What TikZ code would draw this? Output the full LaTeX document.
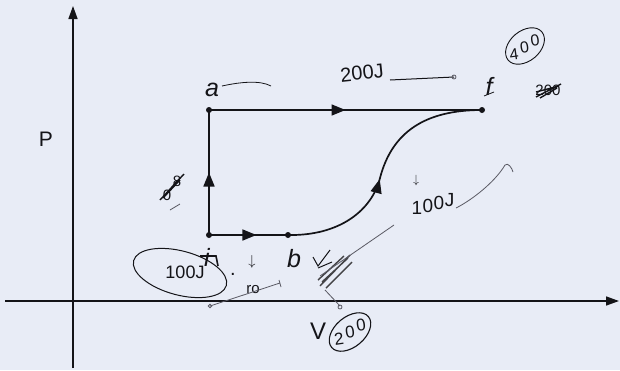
\documentclass[tikz,border=0pt]{standalone}
\usepackage{fontspec}
\setmainfont{Liberation Sans}
\usetikzlibrary{arrows.meta,decorations.markings}
\definecolor{paper}{RGB}{232,236,246}
\definecolor{ink}{RGB}{20,20,24}
\definecolor{pencil}{RGB}{90,90,100}
\tikzset{
  axis/.style={draw=ink,line width=1.6pt,-{Triangle[length=13pt,width=9pt]}},
  proc/.style={draw=ink,line width=1.7pt},
  midtri/.style={postaction={decorate},decoration={markings,mark=at position #1 with {\arrow{Triangle[length=14pt,width=11pt]}}}},
  state/.style={circle,fill=ink,inner sep=0pt,minimum size=6pt},
  hand/.style={text=ink,font=\fontsize{20}{20}\selectfont,inner sep=0pt},
  digit/.style={text=ink,font=\fontsize{16}{16}\selectfont,inner sep=0pt,rotate=8},
  glyph/.style={text=ink,font=\fontsize{19}{19}\selectfont,inner sep=0pt},
  lbl/.style={text=ink,font=\itshape\fontsize{25}{25}\selectfont,inner sep=0pt},
  thin/.style={draw=pencil,line width=0.8pt},
  scrib/.style={draw=ink,line width=1.4pt},
}
\begin{document}
\begin{tikzpicture}[x=1pt,y=-1pt]
\fill[paper] (0,0) rectangle (620,370);
\useasboundingbox (0,0) rectangle (620,370);
% axes
\coordinate (o) at (73,301);
\coordinate (ytop) at (73,6);
\coordinate (ybot) at (73,368);
\coordinate (xleft) at (5,301);
\coordinate (xright) at (619,301);
\draw[axis] (ybot) -- (ytop);
\draw[axis] (xleft) -- (xright);
\node[text=ink,font=\fontsize{21}{21}\selectfont] (P) at (46,139) {P};
\node[hand,font=\fontsize{24}{24}\selectfont] (V) at (318,331) {V};
% states
\node[state] (a) at (209,110) {};
\node[state] (f) at (482,110) {};
\node[state] (i) at (209,235) {};
\node[state] (b) at (288,235) {};
\node[lbl] (la) at (212,90) {a};
\node[lbl] (lf) at (489,86) {f};
\node[lbl] (li) at (207,257) {i};
\node[lbl] (lb) at (294,259) {b};
% processes
\draw[proc,midtri=0.5] (i.center) -- (a.center);
\draw[proc,midtri=0.5] (a.center) -- (f.center);
\draw[proc,midtri=0.6] (i.center) -- (b.center);
\draw[proc,midtri=0.99] (b.center) .. controls (340,236) and (372,210) .. (380,178);
\draw[proc] (380,178) .. controls (392,132) and (425,110) .. (f.center);
% annotations: top
\node[hand,rotate=6] (t200) at (362,73) {200J};
\coordinate (u1) at (390,80);
\coordinate (u2) at (454,77);
\draw[draw=ink,line width=1pt] (u1) -- (u2);
\draw[thin] (u2) circle (2pt);
\draw[ink,line width=0.8pt] (222,86) .. controls (240,82) and (260,80) .. (271,86);
\draw[ink,line width=0.8pt] (484,96) -- (494,92);
% circled 400
\node[digit] (c4a) at (514,54) {4};
\node[digit] (c4b) at (524.5,47) {0};
\node[digit] (c4c) at (535,40) {0};
\draw[ink,line width=0.9pt,rotate around={40:(525,46)}] (525,46) ellipse (22pt and 15pt);
\node[hand,font=\fontsize{15}{15}\selectfont] (x200) at (548,90) {200};
\draw[scrib] (536,97) -- (561,84) (536,92) -- (559,86) (540,98) -- (557,88);
% annotations: right
\node[hand,font=\fontsize{13}{13}\selectfont] (d1) at (416,180) {$\downarrow$};
\node[glyph] (q1) at (417,208) {1};
\node[glyph] (q2) at (428,205.5) {0};
\node[glyph] (q3) at (439,203) {0};
\node[glyph] (q4) at (449.5,200.5) {J};
\coordinate (w1) at (456,208);
\coordinate (w2) at (505,165);
\draw[thin] (w1) .. controls (472,200) and (495,182) .. (w2) .. controls (508,162) and (512,168) .. (513,172);
% annotations: left crossed
\node[glyph,font=\fontsize{15}{15}\selectfont] (x8) at (177,181) {8};
\node[glyph,font=\fontsize{15}{15}\selectfont] (x0) at (167,195) {0};
\draw[scrib] (160,200) -- (184,174) (163,198) -- (180,180) (165,195) -- (178,180);
\draw[thin] (170,210) -- (180,204);
% annotations: bottom
\node[hand,font=\fontsize{18}{18}\selectfont] (w100) at (185,272) {100J};
\draw[ink,line width=1pt,rotate around={-15:(180,273)}] (180,273) ellipse (48pt and 22pt);
\draw[ink,line width=1.6pt] (200,256) -- (216,256) -- (218,266);
\node[hand] (dot) at (233,274) {.};
\node[hand,font=\fontsize{15}{15}\selectfont] (d2) at (252,262) {$\downarrow$};
\node[hand,font=\fontsize{15}{15}\selectfont] (ro) at (253,290) {ro};
\draw[thin] (210,306) -- (280,283);
\draw[thin] (210,306) circle (1.8pt);
\draw[thin] (279,280) -- (281,287);
\draw[ink,line width=1pt] (313,257) -- (318,266) -- (330,250);
\draw[ink,line width=1pt] (318,268) -- (332,262);
\draw[scrib,draw=ink!80] (320,286) -- (350,255) (322,282) -- (348,258) (326,288) -- (352,262) (318,280) -- (344,256);
\draw[thin] (320,276) -- (394,225);
\draw[thin] (325,290) -- (340,306);
\draw[thin] (340,307) circle (2pt);
% circled 200
\node[digit,font=\fontsize{17}{17}\selectfont] (c2a) at (339,339) {2};
\node[digit,font=\fontsize{17}{17}\selectfont] (c2b) at (350,332) {0};
\node[digit,font=\fontsize{17}{17}\selectfont] (c2c) at (361,325) {0};
\draw[ink,line width=1.1pt,rotate around={40:(350,332)}] (350,332) ellipse (24pt and 15pt);
\end{tikzpicture}
\end{document}
